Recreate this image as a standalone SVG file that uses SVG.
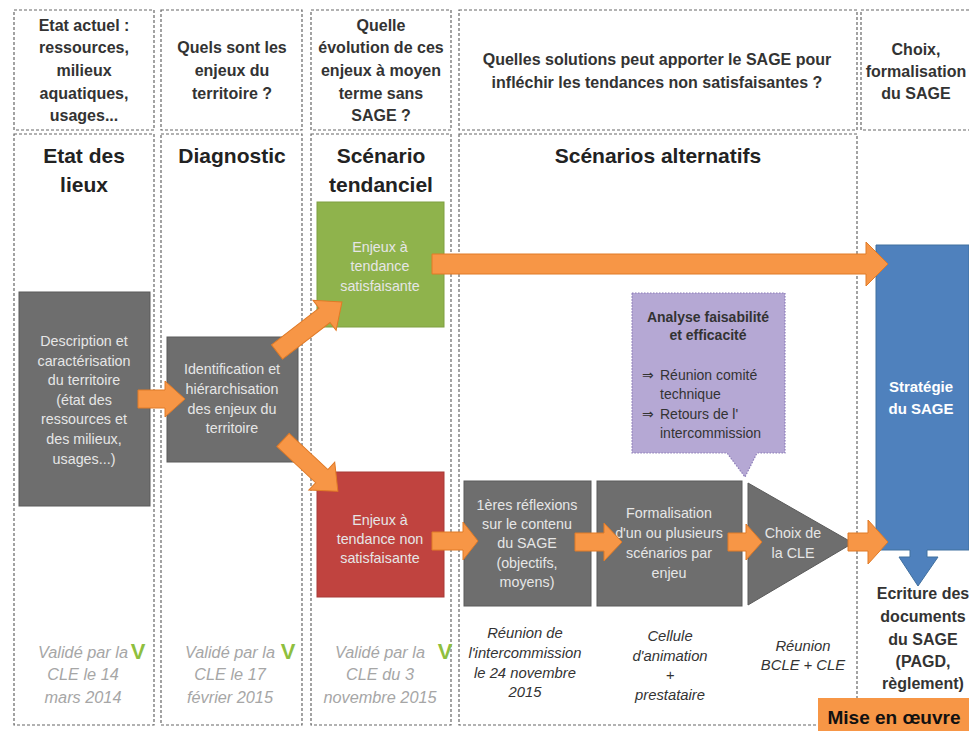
<svg xmlns="http://www.w3.org/2000/svg" width="969" height="731" viewBox="0 0 969 731">
<style>
text{font-family:"Liberation Sans","DejaVu Sans",sans-serif}
.frame{fill:none;stroke:#666;stroke-width:1.2;stroke-dasharray:3 2}
.hdr{font-size:16px;font-weight:bold;fill:#333;text-anchor:middle}
.ttl{font-size:21px;font-weight:bold;fill:#222;text-anchor:middle}
.gray{fill:#6e6e6e;stroke:#5a5a5a;stroke-width:1}
.wt{font-size:14.3px;fill:#e6e6e6;text-anchor:middle}
.val{font-size:16.3px;font-style:italic;fill:#a6a6a6;text-anchor:middle}
.chk{font-size:22px;font-weight:bold;fill:#8fbf3f;text-anchor:middle}
.it{font-size:14.8px;font-style:italic;fill:#333;text-anchor:middle}
.arr{fill:#f79646;stroke:#e07a26;stroke-width:1}
.pt{font-size:14px;fill:#333}
</style>
<rect width="969" height="731" fill="#fff"/>
<g id="header-1"><rect class="frame" x="14" y="10" width="140" height="120"/>
<text class="hdr" x="84" y="31">Etat actuel :</text><text class="hdr" x="84" y="53">ressources,</text><text class="hdr" x="84" y="76">milieux</text><text class="hdr" x="84" y="99">aquatiques,</text><text class="hdr" x="84" y="121">usages...</text></g>
<g id="header-2"><rect class="frame" x="161" y="10" width="141" height="120"/>
<text class="hdr" x="232" y="53">Quels sont les</text><text class="hdr" x="232" y="76">enjeux du</text><text class="hdr" x="232" y="99">territoire ?</text></g>
<g id="header-3"><rect class="frame" x="311" y="10" width="140" height="120"/>
<text class="hdr" x="381" y="31">Quelle</text><text class="hdr" x="381" y="53">évolution de ces</text><text class="hdr" x="381" y="76">enjeux à moyen</text><text class="hdr" x="381" y="99">terme sans</text><text class="hdr" x="381" y="121">SAGE ?</text></g>
<g id="header-4"><rect class="frame" x="459" y="10" width="398" height="120"/>
<text class="hdr" x="657" y="65">Quelles solutions peut apporter le SAGE pour</text><text class="hdr" x="657" y="88">infléchir les tendances non satisfaisantes ?</text></g>
<g id="header-5"><rect class="frame" x="861" y="10" width="120" height="120"/>
<text class="hdr" x="916" y="55">Choix,</text><text class="hdr" x="916" y="77">formalisation</text><text class="hdr" x="916" y="99">du SAGE</text></g>

<g id="col-etat"><rect class="frame" x="14" y="134" width="140" height="591"/>
<text class="ttl" x="84" y="163">Etat des</text><text class="ttl" x="84" y="192">lieux</text>
<text class="val" x="83" y="658">Validé par la</text><text class="val" x="83" y="680">CLE le 14</text><text class="val" x="83" y="703">mars 2014</text>
<text class="chk" x="138" y="659">V</text></g>
<g id="col-diag"><rect class="frame" x="161" y="134" width="141" height="591"/>
<text class="ttl" x="232" y="163">Diagnostic</text>
<text class="val" x="230" y="658">Validé par la</text><text class="val" x="230" y="680">CLE le 17</text><text class="val" x="230" y="703">février 2015</text>
<text class="chk" x="288" y="659">V</text></g>
<g id="col-tend"><rect class="frame" x="311" y="134" width="140" height="591"/>
<text class="ttl" x="381" y="163">Scénario</text><text class="ttl" x="381" y="192">tendanciel</text>
<text class="val" x="380" y="658">Validé par la</text><text class="val" x="380" y="680">CLE du 3</text><text class="val" x="380" y="703">novembre 2015</text>
<text class="chk" x="445" y="659">V</text></g>
<g id="col-alt"><rect class="frame" x="459" y="134" width="398" height="591"/>
<text class="ttl" x="658" y="163">Scénarios alternatifs</text></g>

<g id="description"><rect class="gray" x="19" y="292" width="131" height="214"/>
<text class="wt" x="84" y="346">Description et</text><text class="wt" x="84" y="366">caractérisation</text><text class="wt" x="84" y="385">du territoire</text><text class="wt" x="84" y="405">(état des</text><text class="wt" x="84" y="424">ressources et</text><text class="wt" x="84" y="444">des milieux,</text><text class="wt" x="84" y="464">usages...)</text></g>
<g id="identification"><rect class="gray" x="167" y="337" width="131" height="125"/>
<text class="wt" x="232" y="374">Identification et</text><text class="wt" x="232" y="394">hiérarchisation</text><text class="wt" x="232" y="414">des enjeux du</text><text class="wt" x="232" y="433">territoire</text></g>
<g id="satisfaisante"><rect x="317" y="202" width="127" height="125" fill="#8fb34c" stroke="#7f9f40"/>
<text class="wt" x="380" y="252">Enjeux à</text><text class="wt" x="380" y="271">tendance</text><text class="wt" x="380" y="291">satisfaisante</text></g>
<g id="non-satisfaisante"><rect x="317" y="472" width="127" height="125" fill="#c0433f" stroke="#a83a36"/>
<text class="wt" x="380" y="525">Enjeux à</text><text class="wt" x="380" y="544">tendance non</text><text class="wt" x="380" y="563">satisfaisante</text></g>
<g id="reflexions"><rect class="gray" x="464" y="481" width="127" height="125"/>
<text class="wt" x="527" y="510">1ères réflexions</text><text class="wt" x="527" y="529">sur le contenu</text><text class="wt" x="527" y="548">du SAGE</text><text class="wt" x="527" y="568">(objectifs,</text><text class="wt" x="527" y="587">moyens)</text>
<text class="it" x="525" y="638">Réunion de</text><text class="it" x="525" y="658">l'intercommission</text><text class="it" x="525" y="678">le 24 novembre</text><text class="it" x="525" y="697">2015</text></g>
<g id="formalisation"><rect class="gray" x="597" y="481" width="145" height="125"/>
<text class="wt" x="669" y="518">Formalisation</text><text class="wt" x="669" y="538">d'un ou plusieurs</text><text class="wt" x="669" y="558">scénarios par</text><text class="wt" x="669" y="578">enjeu</text>
<text class="it" x="670" y="641">Cellule</text><text class="it" x="670" y="661">d'animation</text><text class="it" x="670" y="680">+</text><text class="it" x="670" y="700">prestataire</text></g>
<g id="choix-cle"><polygon points="748,483 748,605 853,543" fill="#6e6e6e" stroke="#5a5a5a"/>
<text class="wt" x="793" y="538">Choix de</text><text class="wt" x="793" y="558">la CLE</text>
<text class="it" x="803" y="651">Réunion</text><text class="it" x="803" y="670">BCLE + CLE</text></g>
<g id="analyse"><path d="M632,293 H785 V453 H757 L745,477 L727,453 H632 Z" fill="#b5a8d4" stroke="#8c7cb8" stroke-width="1.2" stroke-dasharray="1.5 1.5"/>
<text class="pt" x="708" y="322" text-anchor="middle" font-weight="bold" font-size="13px">Analyse faisabilité</text><text class="pt" x="708" y="340" text-anchor="middle" font-weight="bold" font-size="13px">et efficacité</text>
<text class="pt" x="642" y="380">⇒</text><text class="pt" x="660" y="380">Réunion comité</text><text class="pt" x="660" y="399">technique</text>
<text class="pt" x="642" y="419">⇒</text><text class="pt" x="660" y="419">Retours de l'</text><text class="pt" x="660" y="438">intercommission</text></g>
<g id="strategie"><path d="M876,245 H969 V550 H927 V557 H938 L918,586 L899,557 H910 V550 H876 Z" fill="#4f81bd" stroke="#41709f"/>
<text x="921" y="392" font-size="15px" font-weight="bold" fill="#fff" text-anchor="middle">Stratégie</text><text x="921" y="414" font-size="15px" font-weight="bold" fill="#fff" text-anchor="middle">du SAGE</text></g>
<g id="ecriture"><text class="hdr" x="923" y="599" font-size="16.5px" fill="#222">Ecriture des</text><text class="hdr" x="923" y="622" font-size="16.5px" fill="#222">documents</text><text class="hdr" x="923" y="645" font-size="16.5px" fill="#222">du SAGE</text><text class="hdr" x="923" y="667" font-size="16.5px" fill="#222">(PAGD,</text><text class="hdr" x="923" y="689" font-size="16.5px" fill="#222">règlement)</text></g>
<g id="mise-en-oeuvre"><rect x="818" y="698" width="151" height="33" fill="#f79646"/>
<text x="894" y="724" font-size="19px" font-weight="bold" fill="#111" text-anchor="middle">Mise en œuvre</text></g>

<g id="connectors">
<polygon class="arr" points="138,390 165,390 165,381 185,399 165,417 165,408 138,408"/>
<polygon class="arr" transform="translate(277,352) rotate(-37.6)" points="0,-9 60,-9 60,-19 82,0 60,19 60,9 0,9"/>
<polygon class="arr" transform="translate(283,440) rotate(43)" points="0,-9 53,-9 53,-19 75,0 53,19 53,9 0,9"/>
<polygon class="arr" points="432,254 866,254 866,242 888,264 866,286 866,274 432,274"/>
<polygon class="arr" points="432,532 463,532 463,522 478,541 463,560 463,550 432,550"/>
<polygon class="arr" points="575,533 604,533 604,523 622,542 604,561 604,551 575,551"/>
<polygon class="arr" points="728,533 746,533 746,524 762,542 746,560 746,551 728,551"/>
<polygon class="arr" points="848,533 868,533 868,520 888,542 868,564 868,551 848,551"/>
</g>
</svg>
